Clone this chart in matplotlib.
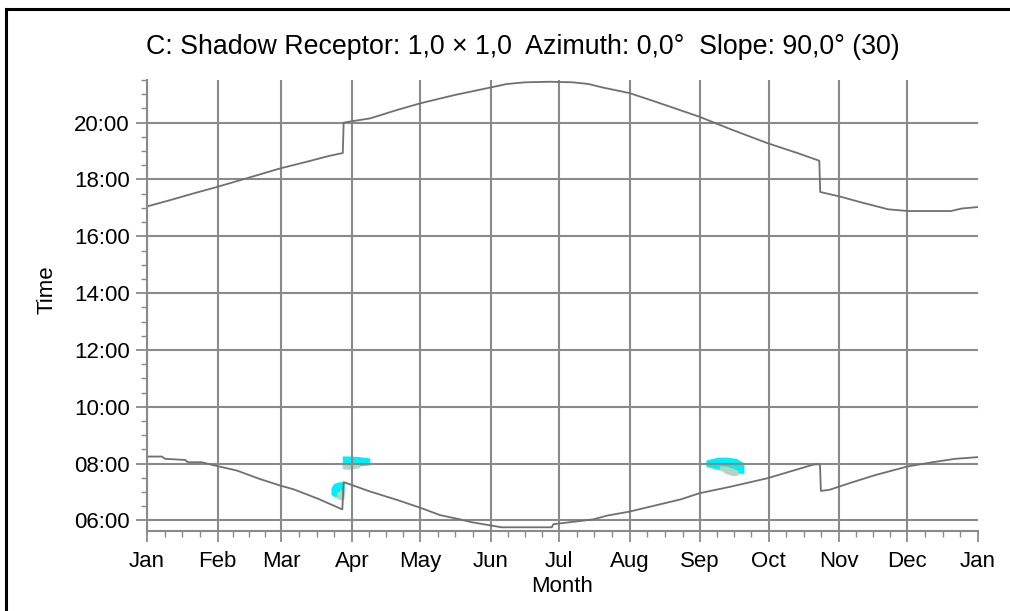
import matplotlib
matplotlib.use('Agg')
import matplotlib.pyplot as plt
from matplotlib.lines import Line2D

plt.rcParams['font.family'] = ['Liberation Sans', 'DejaVu Sans']

# month starts as day of year
month_starts = [0, 31, 59, 90, 120, 151, 181, 212, 243, 273, 304, 334, 365]
month_labels = ['Jan', 'Feb', 'Mar', 'Apr', 'May', 'Jun', 'Jul', 'Aug', 'Sep', 'Oct', 'Nov', 'Dec', 'Jan']
hour_ticks = [6, 8, 10, 12, 14, 16, 18, 20]
hour_labels = ['06:00', '08:00', '10:00', '12:00', '14:00', '16:00', '18:00', '20:00']

# sunset (upper line)
sunset_days = [0, 10, 20, 30, 45, 58.5, 70, 80, 86, 86.4, 90, 98, 110, 120, 135, 151, 158, 166,
               177, 187, 194, 200, 212, 224, 242.6, 256, 272.5, 285, 295.3, 295.7, 304.4, 313,
               325.6, 334.4, 353, 358, 365]
sunset_hours = [17.05, 17.27, 17.5, 17.72, 18.07, 18.39, 18.62, 18.83, 18.93, 20.0, 20.05, 20.15,
                20.45, 20.68, 20.97, 21.24, 21.36, 21.42, 21.44, 21.42, 21.36, 21.24, 21.04, 20.72,
                20.21, 19.78, 19.28, 18.95, 18.66, 17.56, 17.40, 17.21, 16.95, 16.89, 16.89, 16.98,
                17.03]

# sunrise (lower line)
sunrise_days = [0, 6.5, 8, 16.8, 18, 24, 30.6, 39.4, 49.6, 58.9, 64.3, 75, 85.8, 86.4, 98, 110,
                120, 128.7, 137.5, 142.6, 147.7, 155.8, 177.8, 178.5, 185.9, 196.1, 202, 211.8,
                234.3, 242.7, 256.4, 272.7, 292.8, 295.6, 296, 299.8, 310, 320, 334, 345, 355, 365]
sunrise_hours = [8.25, 8.25, 8.17, 8.13, 8.05, 8.05, 7.92, 7.76, 7.46, 7.22, 7.10, 6.77, 6.39,
                 7.35, 7.02, 6.72, 6.45, 6.19, 6.04, 5.94, 5.87, 5.76, 5.76, 5.87, 5.94, 6.04,
                 6.17, 6.31, 6.74, 6.96, 7.19, 7.49, 7.97, 7.98, 7.04, 7.08, 7.35, 7.6, 7.9, 8.05,
                 8.17, 8.23]

# shadow periods (cyan) and overlap (grey-green)
spr_up_days = [85.8, 89, 93, 97.9]
spr_up_lo = [7.92, 7.9, 7.92, 7.96]
spr_up_hi = [8.27, 8.27, 8.25, 8.2]
spr_up_g_days = [85.8, 89, 93.5]
spr_up_g_lo = [7.82, 7.8, 7.86]
spr_up_g_hi = [7.97, 8.0, 7.97]

spr_lo_days = [80.8, 82, 84, 86.6]
spr_lo_lo = [6.92, 6.85, 6.84, 6.9]
spr_lo_hi = [7.15, 7.3, 7.36, 7.37]
spr_lo_g_days = [83.3, 85, 86.6]
spr_lo_g_lo = [6.78, 6.73, 6.78]
spr_lo_g_hi = [6.98, 7.08, 7.05]

aut_days = [245.5, 250.8, 254.7, 259, 262.2]
aut_lo = [7.9, 7.8, 7.71, 7.66, 7.66]
aut_hi = [8.13, 8.23, 8.23, 8.18, 8.02]
aut_g_days = [251.3, 254, 257, 259.7]
aut_g_lo = [7.82, 7.66, 7.58, 7.6]
aut_g_hi = [7.92, 7.92, 7.85, 7.75]

GRID = '#8a8a8a'
LINE = '#707070'
CYAN = '#00eef6'
GREEN = '#b4d4bc'

fig = plt.figure(figsize=(10.10, 6.11), dpi=100)
ax = fig.add_axes([0.1455, 0.1314, 0.8228, 0.7376])

for d, lo, hi, c in [(spr_up_days, spr_up_lo, spr_up_hi, CYAN),
                     (spr_up_g_days, spr_up_g_lo, spr_up_g_hi, GREEN),
                     (spr_lo_days, spr_lo_lo, spr_lo_hi, CYAN),
                     (spr_lo_g_days, spr_lo_g_lo, spr_lo_g_hi, GREEN),
                     (aut_days, aut_lo, aut_hi, CYAN),
                     (aut_g_days, aut_g_lo, aut_g_hi, GREEN)]:
    ax.fill_between(d, lo, hi, color=c, lw=0, zorder=0.2)

ax.plot(sunset_days, sunset_hours, color=LINE, lw=1.3, zorder=2)
ax.plot(sunrise_days, sunrise_hours, color=LINE, lw=1.3, zorder=2)

ax.set_xlim(0, 365)
ax.set_ylim(5.64, 21.5)

# quarter-month minor ticks
minor_x = []
for i in range(12):
    a, b = month_starts[i], month_starts[i + 1]
    minor_x += [a + (b - a) * k / 4 for k in (1, 2, 3)]
ax.set_xticks(month_starts)
ax.set_xticklabels(month_labels)
ax.set_xticks(minor_x, minor=True)
ax.set_yticks(hour_ticks)
ax.set_yticklabels(hour_labels)
ax.set_yticks(sorted(set([h * 0.5 for h in range(12, 44)]) - set(hour_ticks)), minor=True)

ax.tick_params(which='major', length=8, width=1.3, color=GRID, labelsize=16)
ax.tick_params(axis='x', which='major', pad=6.5)
ax.tick_params(axis='y', which='major', pad=4.5)
ax.tick_params(which='minor', length=4, width=1.0, color=GRID)

ax.set_axisbelow(True)
ax.grid(True, which='major', color=GRID, lw=1.5, zorder=1)
ax.xaxis.get_gridlines()[-1].set_visible(False)

for s in ['top', 'right']:
    ax.spines[s].set_visible(False)
for s in ['left', 'bottom']:
    ax.spines[s].set_color(GRID)
    ax.spines[s].set_linewidth(1.5)

fig.text(523 / 1010, 1 - 47 / 611,
         'C: Shadow Receptor: 1,0 \u00d7 1,0  Azimuth: 0,0\u00b0  Slope: 90,0\u00b0 (30)',
         ha='center', va='center', fontsize=19.3)
fig.text(562 / 1010, 1 - 587 / 611, 'Month', ha='center', va='center', fontsize=16)
fig.text(47 / 1010, 1 - 290 / 611, 'Time', ha='center', va='center', fontsize=16, rotation=90)

# outer black frame (cut off at right and bottom)
fig.add_artist(Line2D([6 / 1010, 6 / 1010], [0, 1 - 9 / 611], transform=fig.transFigure,
                      color='black', lw=2.2))
fig.add_artist(Line2D([6 / 1010, 1], [1 - 9 / 611, 1 - 9 / 611], transform=fig.transFigure,
                      color='black', lw=2.2))

fig.savefig('out.png', dpi=100)
